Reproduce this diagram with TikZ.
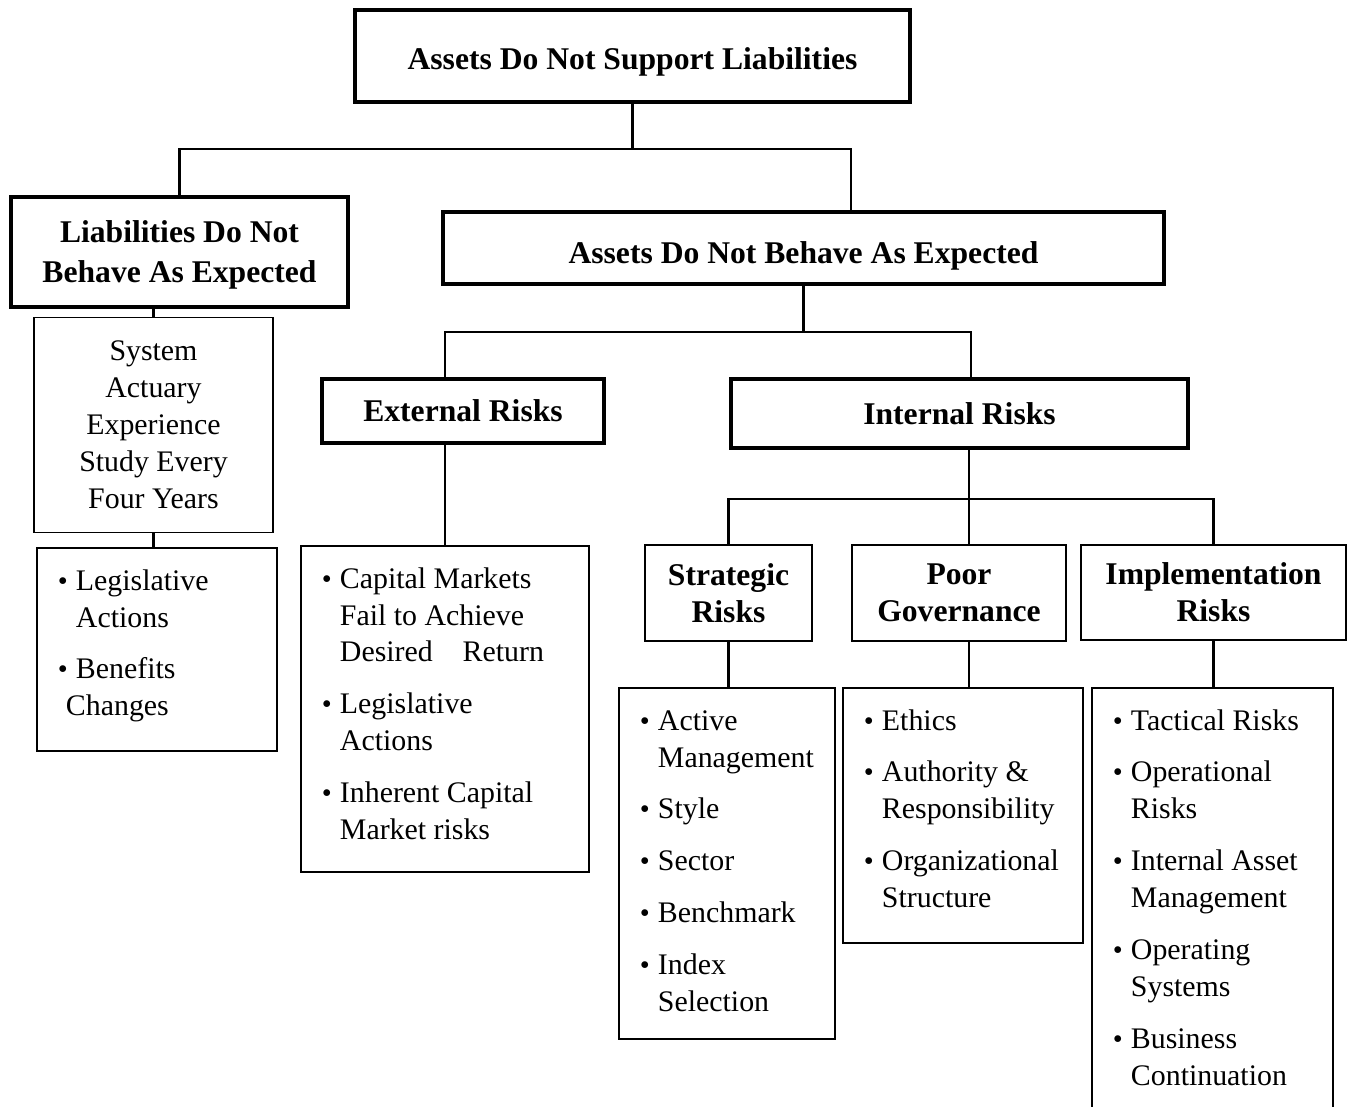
\documentclass[tikz,border=0pt]{standalone}
\usepackage{fontspec}
\setmainfont{Liberation Serif}
\usepackage{graphicx}
\usepackage{tikz}
\newcommand{\bodyfont}{\fontsize{17pt}{21pt}\selectfont}
\newcommand{\headfont}{\fontsize{18pt}{21pt}\selectfont\bfseries}
\newcommand{\bul}{\makebox[0.36cm][l]{\scalebox{0.95}{\textbullet}}}
\newcommand{\ind}{\hspace*{0.36cm}}
\newcommand{\lst}[3]{\parbox[c][#2][t]{#1}{\raggedright\bodyfont\leftskip=0.42cm\rule{0pt}{24pt}#3}}
\tikzset{
  hbox/.style={draw,line width=1.4pt,align=center,inner sep=0pt,font=\headfont},
  hboxk/.style={hbox,line width=2pt},
  tbox/.style={draw,line width=1.1pt,align=center,inner sep=0pt,font=\bodyfont},
  lbox/.style={draw,line width=1.1pt,inner sep=0pt,anchor=north west},
  conn/.style={line width=1.3pt},
}
\begin{document}
\begin{tikzpicture}[x=0.02cm,y=-0.02cm]
  \path[use as bounding box,fill=white] (0,0) rectangle (1349,1106);
  % headings
  \node[hboxk,line width=2.5pt,minimum width=11.1cm,minimum height=1.84cm](top) at (632.5,56){\rule{0pt}{0.67cm}Assets Do Not Support Liabilities};
  \node[hboxk,line width=2.2pt,minimum width=6.74cm,minimum height=2.2cm](liab) at (179.5,252){\rule{0pt}{0.55cm}Liabilities Do Not\\[1.7pt]Behave As Expected};
  \node[hboxk,minimum width=14.42cm,minimum height=1.44cm](assets) at (803.5,248){\rule{0pt}{0.75cm}Assets Do Not Behave As Expected};
  \node[hboxk,minimum width=5.64cm,minimum height=1.28cm](ext) at (463,411){External Risks};
  \node[hboxk,minimum width=9.14cm,minimum height=1.38cm](int) at (959.5,413.5){Internal Risks};
  \node[hbox,minimum width=3.34cm,minimum height=1.92cm](strat) at (728.5,593){Strategic\\Risks};
  \node[hbox,minimum width=4.28cm,minimum height=1.92cm](poor) at (959,593){Poor\\Governance};
  \node[hbox,minimum width=5.3cm,minimum height=1.9cm](impl) at (1213.5,592.5){Implementation\\Risks};
  \node[tbox,minimum width=4.78cm,minimum height=4.3cm](sys) at (153.5,425){System\\Actuary\\Experience\\Study Every\\Four Years};
  % lists
  \node[lbox](leg) at (36,547){\lst{4.8cm}{4.06cm}{\bul Legislative\\ \ind Actions\\[8.5pt]
    \bul Benefits\\ \hspace*{0.16cm}Changes}};
  \node[lbox](cap) at (300,545){\lst{5.76cm}{6.52cm}{\bul Capital Markets\\ \ind Fail to Achieve\\ \ind Desired\quad Return\\[8.5pt]
    \bul Legislative\\ \ind Actions\\[8.5pt]
    \bul Inherent Capital\\ \ind Market risks}};
  \node[lbox](stl) at (618,687){\lst{4.32cm}{7.02cm}{\bul Active\\ \ind Management\\[8.5pt]
    \bul Style\\[8.5pt] \bul Sector\\[8.5pt] \bul Benchmark\\[8.5pt]
    \bul Index\\ \ind Selection}};
  \node[lbox](pgl) at (842,687){\lst{4.8cm}{5.1cm}{\bul Ethics\\[8.5pt]
    \bul Authority \&\\ \ind Responsibility\\[8.5pt]
    \bul Organizational\\ \ind Structure}};
  \node[lbox](iml) at (1091,687){\lst{4.82cm}{8.86cm}{\bul Tactical Risks\\[8.5pt]
    \bul Operational\\ \ind Risks\\[8.5pt]
    \bul Internal Asset\\ \ind Management\\[8.5pt]
    \bul Operating\\ \ind Systems\\[8.5pt]
    \bul Business\\ \ind Continuation}};
  % connectors
  \coordinate (b1) at (0,149);
  \coordinate (b2) at (0,332);
  \coordinate (b3) at (0,499);
  \coordinate (aIn) at ([xshift=0.95cm]assets.north);
  \coordinate (iIn) at ([xshift=0.23cm]int.north);
  \coordinate (iOut) at ([xshift=0.19cm]int.south);
  \draw[conn](top.south)--(top.south |- b1);
  \draw[conn](liab.north) |- (aIn |- b1)--(aIn);
  \draw[conn](sys.north)--(sys.north |- liab.south);
  \draw[conn](sys.south)--(sys.south |- leg.north);
  \draw[conn](assets.south)--(assets.south |- b2);
  \draw[conn](cap.north |- ext.north) |- (iIn |- b2)--(iIn);
  \draw[conn](cap.north |- ext.south)--(cap.north);
  \draw[conn](iOut)--(iOut |- poor.north);
  \draw[conn](strat.north) |- (impl.north |- b3)--(impl.north);
  \draw[conn](iOut |- poor.south)--(iOut |- pgl.north);
  \draw[conn](strat.south)--(strat.south |- stl.north);
  \draw[conn](impl.south)--(impl.south |- iml.north);
\end{tikzpicture}
\end{document}
